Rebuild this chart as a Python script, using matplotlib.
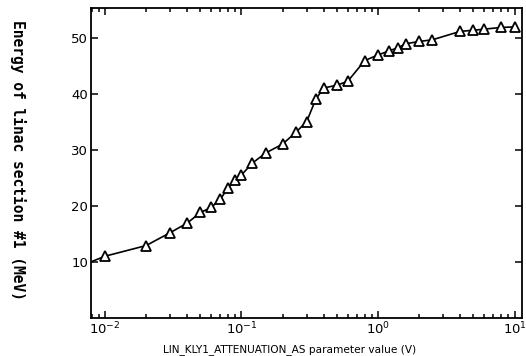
import matplotlib
matplotlib.use("Agg")
import matplotlib.pyplot as plt
from matplotlib.ticker import LogLocator, NullFormatter

# attenuation parameter (V) and energy (MeV)
atten = [0.01, 0.02, 0.03, 0.04, 0.05, 0.06, 0.07, 0.08, 0.09, 0.1,
         0.12, 0.15, 0.2, 0.25, 0.3, 0.35, 0.4, 0.5, 0.6, 0.8,
         1.0, 1.2, 1.4, 1.6, 2.0, 2.5, 4.0, 5.0, 6.0, 8.0, 10.0]
energy = [11.0, 12.9, 15.2, 16.9, 18.8, 19.7, 21.2, 23.2, 24.6, 25.5,
          27.6, 29.4, 31.0, 33.1, 35.0, 39.0, 41.0, 41.5, 42.2, 45.9,
          46.9, 47.6, 48.2, 48.9, 49.3, 49.6, 51.1, 51.3, 51.5, 51.8, 51.9]

# curve comes in from the frame edge before the first point
lead_x, lead_y = 0.0079, 10.0

yticks = [10, 20, 30, 40, 50]
xticks = [0.01, 0.1, 1, 10]
xticklabels = ["$10^{-2}$", "$10^{-1}$", "$10^{0}$", "$10^{1}$"]

plt.rcParams["font.family"] = ["DejaVu Sans"]
plt.rcParams["mathtext.fontset"] = "dejavusans"

fig = plt.figure(figsize=(5.26, 3.56), dpi=100)
ax = fig.add_axes([0.173, 0.107, 0.819, 0.871])

ax.plot([lead_x] + atten, [lead_y] + energy, color="black", lw=1.2,
        marker="^", markersize=7, markerfacecolor="white",
        markeredgecolor="black", markeredgewidth=1.3,
        markevery=list(range(1, len(atten) + 1)))

ax.set_xscale("log")
ax.set_xlim(0.0079, 11.3)
ax.set_ylim(0, 55.3)

ax.set_xticks(xticks)
ax.set_xticklabels(xticklabels)
ax.xaxis.set_minor_locator(LogLocator(base=10, subs=range(2, 10)))
ax.xaxis.set_minor_formatter(NullFormatter())
ax.set_yticks(yticks)

ax.tick_params(which="both", direction="in", top=True, right=True,
               labelsize=9.5, width=1.1, pad=2)
ax.tick_params(which="major", length=5)
ax.tick_params(which="minor", length=3)
ax.tick_params(axis="y", which="minor", left=False, right=False)
for s in ax.spines.values():
    s.set_linewidth(1.3)

ax.set_xlabel("LIN_KLY1_ATTENUATION_AS parameter value (V)", fontsize=7.6)
ax.xaxis.set_label_coords(0.46, -0.085)
fig.text(0.034, 0.55, "Energy of linac section #1 (MeV)", rotation=270,
         ha="center", va="center", family="DejaVu Sans Mono",
         fontsize=10.5, fontweight="bold")

fig.savefig("out.png", dpi=100)
